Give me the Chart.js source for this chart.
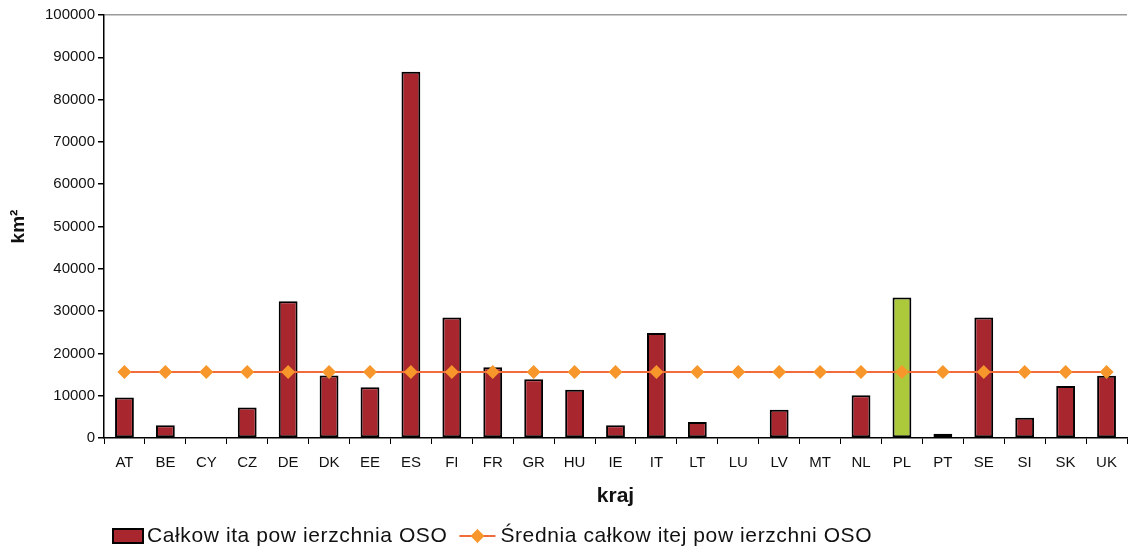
<!DOCTYPE html>
<html>
<head>
<meta charset="utf-8">
<script src="https://cdn.jsdelivr.net/npm/chart.js@4/dist/chart.umd.min.js"></script>
<style>
  html, body { margin: 0; padding: 0; background: #fff; overflow: hidden; }
</style>
</head>
<body>
<canvas id="chart" width="1134" height="546"></canvas>
<script>
// categories (country codes)
const countries = ["AT", "BE", "CY", "CZ", "DE", "DK", "EE", "ES", "FI", "FR", "GR", "HU", "IE",
  "IT", "LT", "LU", "LV", "MT", "NL", "PL", "PT", "SE", "SI", "SK", "UK"];
// total area of special protection areas (km2)
const areaValues = [9600, 3000, 0, 7200, 32300, 14800, 12000, 86600, 28500, 16700, 13900, 11400, 3000,
  24800, 3800, 0, 6700, 0, 10100, 33200, 1000, 28500, 4800, 12300, 14700];
// mean total area (km2)
const averageValues = [15600, 15600, 15600, 15600, 15600, 15600, 15600, 15600, 15600, 15600, 15600, 15600, 15600,
  15600, 15600, 15600, 15600, 15600, 15600, 15600, 15600, 15600, 15600, 15600, 15600];
const yTicks = [0, 10000, 20000, 30000, 40000, 50000, 60000, 70000, 80000, 90000, 100000];

const seriesNames = ["Całkow ita pow ierzchnia OSO", "Średnia całkow itej pow ierzchni OSO"];

const barRed = "#A8272F";
const barGreen = "#ACC93C";
const lineColor = "#F26B3A";
const markerColor = "#F7962A";
const fontFamily = "'Liberation Sans', Arial, sans-serif";

// highlight Poland
const barColors = countries.map(c => c === "PL" ? barGreen : barRed);

// legend drawn under the axis title
const bottomLegend = {
  id: "bottomLegend",
  afterDraw(chart) {
    const ctx = chart.ctx;
    const y = 536;
    ctx.save();
    ctx.font = "21px " + fontFamily;
    ctx.letterSpacing = "0.6px";
    ctx.textBaseline = "middle";
    // bar swatch
    let x = 113;
    ctx.fillStyle = barRed;
    ctx.fillRect(x, y - 7, 30, 14);
    ctx.strokeStyle = "#000";
    ctx.lineWidth = 2;
    ctx.strokeRect(x, y - 7, 30, 14);
    x += 34;
    ctx.fillStyle = "#111";
    ctx.fillText(seriesNames[0], x, y);
    x += ctx.measureText(seriesNames[0]).width + 12;
    // line swatch
    ctx.strokeStyle = lineColor;
    ctx.lineWidth = 2;
    ctx.beginPath();
    ctx.moveTo(x, y);
    ctx.lineTo(x + 36, y);
    ctx.stroke();
    ctx.fillStyle = markerColor;
    ctx.beginPath();
    ctx.moveTo(x + 18, y - 7);
    ctx.lineTo(x + 25, y);
    ctx.lineTo(x + 18, y + 7);
    ctx.lineTo(x + 11, y);
    ctx.closePath();
    ctx.fill();
    x += 41;
    ctx.fillStyle = "#111";
    ctx.fillText(seriesNames[1], x, y);
    ctx.restore();
  }
};

new Chart(document.getElementById("chart"), {
  data: {
    labels: countries,
    datasets: [
      {
        type: "line",
        label: seriesNames[1],
        data: averageValues,
        borderColor: lineColor,
        borderWidth: 2,
        pointStyle: "rectRot",
        pointRadius: 7,
        pointBackgroundColor: markerColor,
        pointBorderWidth: 0,
        order: 0
      },
      {
        type: "bar",
        label: seriesNames[0],
        data: areaValues,
        backgroundColor: barColors,
        borderColor: "#000",
        borderWidth: 2,
        borderSkipped: false,
        categoryPercentage: 1,
        barPercentage: 0.46,
        order: 1
      }
    ]
  },
  options: {
    responsive: false,
    animation: false,
    layout: { padding: { top: 15, right: 1, bottom: 30, left: 0 } },
    plugins: {
      legend: { display: false },
      tooltip: { enabled: false }
    },
    scales: {
      x: {
        offset: true,
        border: { color: "#000", width: 1.5 },
        grid: { drawOnChartArea: false, offset: true, tickLength: 6, color: "#000", tickColor: "#000" },
        ticks: { color: "#111", font: { family: fontFamily, size: 15 }, padding: 10, maxRotation: 0, autoSkip: false },
        title: { display: true, text: "kraj", color: "#111", font: { family: fontFamily, size: 21, weight: "bold" }, padding: { top: 0, bottom: 7 } },
        afterFit(scale) { scale.height = 78; }
      },
      y: {
        min: 0,
        max: 100000,
        afterBuildTicks(scale) { scale.ticks = yTicks.map(v => ({ value: v })); },
        border: { color: "#000", width: 1.5 },
        grid: {
          color: ctx => ctx.tick && ctx.tick.value === 100000 ? "#9a9a9a" : "rgba(0,0,0,0)",
          tickColor: "#000",
          tickLength: 6,
          lineWidth: 1.5
        },
        ticks: { color: "#111", font: { family: fontFamily, size: 15 }, padding: 3, callback: v => String(v) },
        title: { display: true, text: "km²", color: "#111", font: { family: fontFamily, size: 19, weight: "bold" }, padding: { top: 7, bottom: 0 } },
        afterFit(scale) { scale.width = 104; }
      }
    }
  },
  plugins: [bottomLegend]
});
</script>
</body>
</html>
